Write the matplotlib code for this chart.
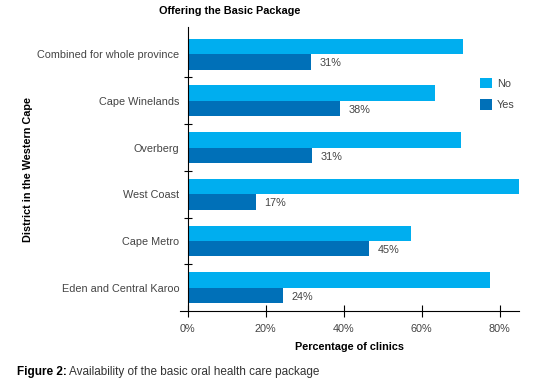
import matplotlib.pyplot as plt
import numpy as np

plt.rcParams['font.family'] = ['Liberation Sans', 'DejaVu Sans']

districts = ["Combined for whole province", "Cape Winelands", "Overberg",
             "West Coast", "Cape Metro", "Eden and Central Karoo"]
no_vals = [70.5, 63.5, 70.0, 85.0, 57.2, 77.5]
yes_vals = [31.5, 39.0, 32.0, 17.5, 46.5, 24.5]
yes_labels = ["31%", "38%", "31%", "17%", "45%", "24%"]
xticks = [0, 20, 40, 60, 80]

c_no = "#00aeef"
c_yes = "#0070b8"
txt = "#444444"
fs = 7.8

fig = plt.figure(figsize=(5.45, 3.91), dpi=100)
ax = fig.add_axes([180 / 545, 80 / 391, 339 / 545, 284 / 391])

y = np.arange(len(districts))
h = 0.33
ax.barh(y - h / 2, no_vals, height=h, color=c_no, label="No")
ax.barh(y + h / 2, yes_vals, height=h, color=c_yes, label="Yes")

for yi, v, lab in zip(y, yes_vals, yes_labels):
    ax.text(v + 2.2, yi + h / 2 + 0.03, lab, va="center", ha="left",
            fontsize=fs, color=txt)

ax.set_xlim(-2, 85)
ax.set_ylim(5.5, -0.58)

ax.spines['top'].set_visible(False)
ax.spines['right'].set_visible(False)
ax.spines['left'].set_position(('data', 0))
ax.spines['left'].set_bounds(5.5, -0.58)

ax.set_yticks(np.arange(0.5, len(districts) - 1, 1))
ax.set_yticklabels([])
ax.set_yticks(y, minor=True)
ax.set_yticklabels(districts, minor=True, fontsize=fs, color=txt)
ax.tick_params(axis='y', which='minor', length=0, pad=6)
ax.tick_params(axis='y', which='major', direction='inout', length=6)

ax.set_xticks(xticks)
ax.set_xticklabels([f"{t}%" for t in xticks], fontsize=fs, color=txt)
ax.tick_params(axis='x', direction='inout', length=8, pad=5)

ax.set_xlabel("Percentage of clinics", fontsize=fs, fontweight="bold", labelpad=6)

fig.text(230 / 545, 1 - 11 / 391, "Offering the Basic Package", ha="center",
         va="center", fontsize=fs, fontweight="bold")
fig.text(28 / 545, 1 - 170 / 391, "District in the Western Cape", rotation=90,
         ha="center", va="center", fontsize=fs, fontweight="bold")

leg = fig.legend(loc="upper left", bbox_to_anchor=(470 / 545, 1 - 68 / 391),
                 frameon=False, fontsize=fs, handlelength=1.1, handleheight=1.1,
                 labelspacing=1.0, handletextpad=0.5)
for t in leg.get_texts():
    t.set_color(txt)

fig.text(17 / 545, 1 - 372 / 391, "Figure 2:", fontsize=8.5, fontweight="bold",
         va="center", ha="left")
fig.text(69 / 545, 1 - 372 / 391, "Availability of the basic oral health care package",
         fontsize=8.5, va="center", ha="left", color="#333333")

fig.savefig("out.png", dpi=100)
